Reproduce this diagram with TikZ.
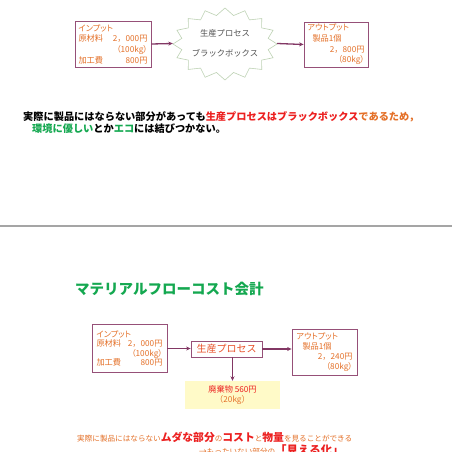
\documentclass[tikz,border=0pt]{standalone}
\usepackage{fontspec}
\setmainfont{Noto Sans CJK JP}
\newfontfamily\pcjk[RawFeature=+palt]{Noto Sans CJK JP}
\newcommand{\fwc}{{\rmfamily，}}
\usetikzlibrary{arrows.meta}
\definecolor{boxc}{RGB}{150,80,120}
\definecolor{arrc}{RGB}{130,55,100}
\definecolor{orng}{RGB}{228,112,40}
\definecolor{redc}{RGB}{236,32,32}
\definecolor{grnc}{RGB}{20,168,80}
\definecolor{starc}{RGB}{190,210,180}
\definecolor{grayt}{RGB}{80,80,80}
\definecolor{wastef}{RGB}{255,250,200}
\definecolor{sepc}{RGB}{165,165,165}
\tikzset{
  bx/.style={draw=boxc, line width=0.8pt, align=left, text=orng, inner ysep=0pt, anchor=center},
  arr/.style={draw=arrc, line width=1.3pt, -{Stealth[length=4.5pt,width=4pt]}},
  txt/.style={anchor=west, inner sep=0pt},
}
\begin{document}
\begin{tikzpicture}[x=1pt,y=-1pt]
\useasboundingbox[fill=white] (0,0) rectangle (452,452);
% ---------- top diagram ----------
\node[bx, minimum width=76, minimum height=46, inner xsep=3.5, text width=69,
      font=\pcjk\fontsize{8.2}{10.7}\selectfont] (in1) at (113,44)
  {インプット\\原材料\hfill 2\fwc 000円\\\hfill（100kg）\\加工費\hfill 800円};
\draw[starc, line width=0.6pt] plot[variable=\k, samples at={0,...,31}]
  ({225+(isodd(\k)?44:52)*cos(\k*11.25)}, {44+(isodd(\k)?29:36)*sin(\k*11.25)}) -- cycle;
\node[minimum width=104, minimum height=70, inner sep=0pt, align=center, text=grayt,
      font=\fontsize{8.3}{20.5}\selectfont] (proc1) at (225,43.5)
  {生産プロセス\\ブラックボックス};
\node[bx, minimum width=64, minimum height=45, inner xsep=3.5, text width=57,
      font=\pcjk\fontsize{8.2}{10.7}\selectfont] (out1) at (336,44.5)
  {アウトプット\\\hspace*{5pt}製品1個\\\hfill 2\fwc 800円\hspace*{4pt}\\\hfill（80kg）};
\draw[arr] (in1.east) -- (proc1.west);
\draw[arr] (proc1.east) -- (out1.west);
% ---------- top text ----------
\node[txt, font=\bfseries\fontsize{10.2}{12}\selectfont] (t1) at (23,117)
  {実際に製品にはならない部分があっても\textcolor{redc}{生産プロセスはブラックボックス}\textcolor{orng}{であるため，}};
\node[txt, font=\bfseries\fontsize{10.2}{12}\selectfont] (t2) at (32,129)
  {\textcolor{grnc}{環境に優しい}とか\textcolor{grnc}{エコ}には結びつかない。};
% ---------- separator ----------
\coordinate (sl) at (0,226);
\coordinate (sr) at (452,226);
\draw[sepc, line width=2pt] (sl) -- (sr);
% ---------- title ----------
\node[txt, text=grnc, font=\bfseries\fontsize{14.5}{16}\selectfont] (title) at (75,289)
  {マテリアルフローコスト会計};
% ---------- bottom diagram ----------
\node[bx, minimum width=75, minimum height=48, inner xsep=4.5, text width=66,
      font=\pcjk\fontsize{8.2}{9.6}\selectfont] (in2) at (129.5,348.5)
  {インプット\\原材料\hfill 2\fwc 000円\\\hfill（100kg）\\加工費\hfill 800円};
\node[draw=boxc, line width=0.8pt, minimum width=71, minimum height=16, inner sep=0pt,
      text={rgb,255:red,232;green,80;blue,40}, font=\fontsize{10}{12}\selectfont] (proc2) at (226.5,349)
  {生産プロセス};
\node[bx, minimum width=65, minimum height=46, inner xsep=4.5, text width=56,
      font=\pcjk\fontsize{8.2}{10}\selectfont] (out2) at (324.5,352)
  {アウトプット\\\hspace*{6pt}製品1個\\\hfill 2\fwc 240円\hspace*{5pt}\\\hfill（80kg）};
\node[fill=wastef, minimum width=95, minimum height=28, inner sep=0pt, align=center,
      font=\fontsize{8.2}{10}\selectfont] (waste) at (232.5,395)
  {\textcolor{redc}{廃棄物 560円}\\\textcolor{orng}{（20kg）}};
\draw[arr] (in2.east) -- (in2.east -| proc2.west);
\draw[arr] (proc2.east) -- (proc2.east -| out2.west);
\draw[arr] (proc2.south -| waste.north) -- (waste.north);
% ---------- bottom text ----------
\node[txt, text=orng, font=\fontsize{7.6}{9}\selectfont] (b1) at (77,437)
  {実際に製品にはならない{\bfseries\fontsize{10.8}{12}\selectfont\textcolor{redc}{ムダな部分}}の{\bfseries\fontsize{10.8}{12}\selectfont\textcolor{redc}{コスト}}と{\bfseries\fontsize{10.8}{12}\selectfont\textcolor{redc}{物量}}を見ることができる};
\node[txt, text=orng, font=\fontsize{7.6}{9}\selectfont] (b2) at (199,450.5)
  {→もったいない部分の{\bfseries\fontsize{11.5}{12}\selectfont\textcolor{redc}{「見える化」}}};
\end{tikzpicture}
\end{document}
